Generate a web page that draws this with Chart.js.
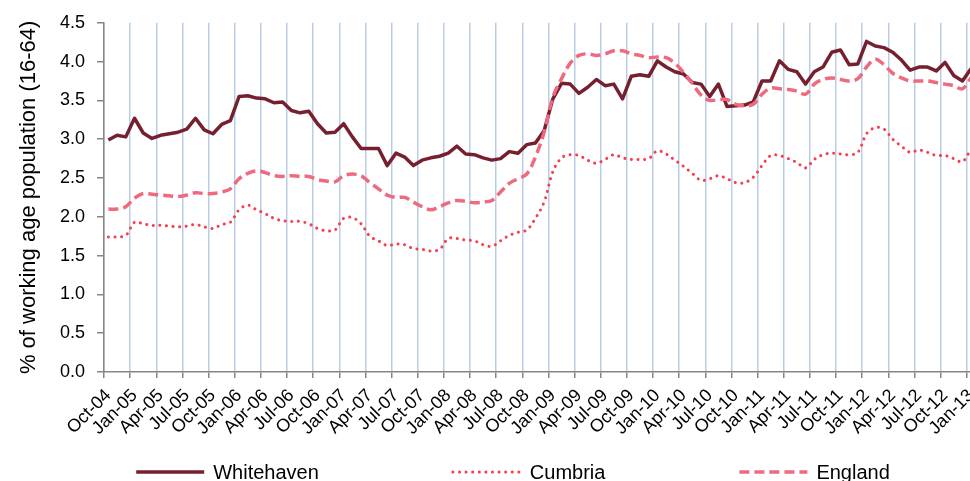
<!DOCTYPE html>
<html>
<head>
<meta charset="utf-8">
<script src="https://cdn.jsdelivr.net/npm/chart.js@4.4.0/dist/chart.umd.min.js"></script>
<style>
  html, body { margin: 0; padding: 0; background: #fff; }
  #wrap { width: 970px; height: 481px; overflow: hidden; }
  #chart { display: block; }
</style>
</head>
<body>
<div id="wrap"><canvas id="chart" width="1026" height="481"></canvas></div>
<script>
const months = [
  'Oct-04', 'Nov-04', 'Dec-04',
  'Jan-05', 'Feb-05', 'Mar-05', 'Apr-05', 'May-05', 'Jun-05', 'Jul-05', 'Aug-05', 'Sep-05', 'Oct-05', 'Nov-05', 'Dec-05',
  'Jan-06', 'Feb-06', 'Mar-06', 'Apr-06', 'May-06', 'Jun-06', 'Jul-06', 'Aug-06', 'Sep-06', 'Oct-06', 'Nov-06', 'Dec-06',
  'Jan-07', 'Feb-07', 'Mar-07', 'Apr-07', 'May-07', 'Jun-07', 'Jul-07', 'Aug-07', 'Sep-07', 'Oct-07', 'Nov-07', 'Dec-07',
  'Jan-08', 'Feb-08', 'Mar-08', 'Apr-08', 'May-08', 'Jun-08', 'Jul-08', 'Aug-08', 'Sep-08', 'Oct-08', 'Nov-08', 'Dec-08',
  'Jan-09', 'Feb-09', 'Mar-09', 'Apr-09', 'May-09', 'Jun-09', 'Jul-09', 'Aug-09', 'Sep-09', 'Oct-09', 'Nov-09', 'Dec-09',
  'Jan-10', 'Feb-10', 'Mar-10', 'Apr-10', 'May-10', 'Jun-10', 'Jul-10', 'Aug-10', 'Sep-10', 'Oct-10', 'Nov-10', 'Dec-10',
  'Jan-11', 'Feb-11', 'Mar-11', 'Apr-11', 'May-11', 'Jun-11', 'Jul-11', 'Aug-11', 'Sep-11', 'Oct-11', 'Nov-11', 'Dec-11',
  'Jan-12', 'Feb-12', 'Mar-12', 'Apr-12', 'May-12', 'Jun-12', 'Jul-12', 'Aug-12', 'Sep-12', 'Oct-12', 'Nov-12', 'Dec-12',
  'Jan-13'
];

// claimant rate, % of working age population (16-64)
const whitehaven = [
  2.99, 3.05, 3.03,
  3.27, 3.08, 3.01, 3.05, 3.07, 3.09, 3.13, 3.27, 3.12, 3.07, 3.19, 3.24,
  3.55, 3.56, 3.53, 3.52, 3.47, 3.48, 3.37, 3.34, 3.36, 3.20, 3.08, 3.09,
  3.20, 3.03, 2.88, 2.88, 2.88, 2.66, 2.82, 2.77, 2.66, 2.73, 2.76, 2.78,
  2.82, 2.91, 2.81, 2.80, 2.76, 2.73, 2.75, 2.84, 2.82, 2.93, 2.95, 3.11,
  3.52, 3.72, 3.71, 3.59, 3.67, 3.77, 3.69, 3.71, 3.52, 3.81, 3.83, 3.81,
  4.01, 3.93, 3.87, 3.84, 3.73, 3.71, 3.55, 3.71, 3.42, 3.43, 3.44, 3.48,
  3.75, 3.75, 4.01, 3.90, 3.87, 3.71, 3.87, 3.93, 4.12, 4.15, 3.96, 3.97,
  4.26, 4.20, 4.18, 4.12, 4.02, 3.89, 3.93, 3.93, 3.88, 3.99, 3.82, 3.75,
  3.91
];

const cumbria = [
  1.74, 1.74, 1.76,
  1.93, 1.91, 1.89, 1.89, 1.88, 1.87, 1.88, 1.90, 1.87, 1.85, 1.90, 1.93,
  2.09, 2.15, 2.09, 2.04, 1.98, 1.95, 1.94, 1.94, 1.91, 1.85, 1.82, 1.83,
  1.98, 1.99, 1.91, 1.75, 1.69, 1.63, 1.65, 1.64, 1.59, 1.58, 1.56, 1.58,
  1.72, 1.72, 1.70, 1.69, 1.64, 1.62, 1.69, 1.76, 1.80, 1.83, 1.98, 2.19,
  2.58, 2.76, 2.80, 2.79, 2.73, 2.69, 2.74, 2.80, 2.76, 2.74, 2.74, 2.75,
  2.85, 2.81, 2.73, 2.65, 2.56, 2.47, 2.49, 2.53, 2.49, 2.44, 2.44, 2.51,
  2.66, 2.79, 2.79, 2.75, 2.70, 2.63, 2.74, 2.80, 2.82, 2.81, 2.80, 2.83,
  3.07, 3.15, 3.13, 3.00, 2.91, 2.83, 2.86, 2.83, 2.79, 2.79, 2.75, 2.71,
  2.88
];

const england = [
  2.10, 2.10, 2.13,
  2.24, 2.30, 2.29, 2.28, 2.27, 2.26, 2.28, 2.31, 2.30, 2.30, 2.32, 2.36,
  2.49, 2.56, 2.59, 2.57, 2.53, 2.52, 2.53, 2.52, 2.52, 2.48, 2.46, 2.45,
  2.53, 2.55, 2.53, 2.44, 2.36, 2.28, 2.25, 2.25, 2.19, 2.13, 2.09, 2.13,
  2.18, 2.21, 2.20, 2.18, 2.19, 2.21, 2.32, 2.43, 2.49, 2.55, 2.77, 3.09,
  3.54, 3.78, 3.98, 4.08, 4.10, 4.08, 4.10, 4.14, 4.14, 4.10, 4.08, 4.05,
  4.06, 4.05, 3.98, 3.86, 3.72, 3.57, 3.50, 3.51, 3.51, 3.45, 3.43, 3.45,
  3.58, 3.66, 3.65, 3.64, 3.62, 3.58, 3.71, 3.77, 3.79, 3.77, 3.75, 3.78,
  3.93, 4.03, 3.96, 3.85, 3.79, 3.75, 3.75, 3.75, 3.73, 3.71, 3.69, 3.65,
  3.79
];

const axisGrey = '#868686';
const gridBlue = '#b9cde5';

Chart.defaults.font.family = "'Liberation Sans', Arial, sans-serif";
Chart.defaults.color = '#000';

// line-sample legend laid out in one row along the bottom edge
const lineLegend = {
  id: 'lineLegend',
  afterDraw(chart, args, opts) {
    const ctx = chart.ctx;
    ctx.save();
    ctx.font = opts.font;
    const items = chart.data.datasets.map(ds => ({
      ds: ds,
      w: opts.sample + opts.textGap + ctx.measureText(ds.label).width
    }));
    const total = items.reduce((s, it) => s + it.w, 0) + opts.gap * (items.length - 1);
    let x = chart.width / 2 - total / 2;
    items.forEach(({ds, w}) => {
      ctx.beginPath();
      ctx.strokeStyle = ds.borderColor;
      ctx.lineWidth = ds.borderWidth;
      ctx.lineCap = ds.borderCapStyle || 'butt';
      ctx.setLineDash(ds.borderDash || []);
      ctx.moveTo(x, opts.y);
      ctx.lineTo(x + opts.sample, opts.y);
      ctx.stroke();
      ctx.setLineDash([]);
      ctx.fillStyle = '#000';
      ctx.textBaseline = 'middle';
      ctx.textAlign = 'left';
      ctx.fillText(ds.label, x + opts.sample + opts.textGap, opts.y + 1);
      x += w + opts.gap;
    });
    ctx.restore();
  }
};

const ctx = document.getElementById('chart').getContext('2d');
const chart = new Chart(ctx, {
  type: 'line',
  data: {
    labels: months,
    datasets: [
      {
        label: 'Whitehaven',
        data: whitehaven,
        borderColor: '#76202f',
        borderWidth: 3.5,
        borderJoinStyle: 'round',
        pointRadius: 0,
        tension: 0,
        order: 2
      },
      {
        label: 'Cumbria',
        data: cumbria,
        borderColor: '#f5404e',
        borderWidth: 3,
        borderDash: [0.1, 6.5],
        borderCapStyle: 'round',
        pointRadius: 0,
        tension: 0.35,
        order: 1
      },
      {
        label: 'England',
        data: england,
        borderColor: '#ee6b7f',
        borderWidth: 3.5,
        borderDash: [10, 5],
        pointRadius: 0,
        tension: 0.35,
        order: 0
      }
    ]
  },
  options: {
    responsive: false,
    animation: false,
    layout: { padding: { top: 22, right: 50.5, bottom: 0, left: 0 } },
    plugins: {
      legend: { display: false },
      tooltip: { enabled: false },
      lineLegend: {
        y: 472,
        sample: 68,
        textGap: 9,
        gap: 134,
        font: "20px 'Liberation Sans', Arial, sans-serif"
      }
    },
    scales: {
      x: {
        offset: true,
        grid: {
          offset: true,
          color: c => c.index % 3 === 0 ? gridBlue : 'rgba(0,0,0,0)',
          tickColor: c => c.index % 3 === 0 ? axisGrey : 'rgba(0,0,0,0)',
          lineWidth: 1.5,
          tickLength: 6
        },
        border: { color: axisGrey, width: 1.5 },
        ticks: {
          autoSkip: false,
          minRotation: 45,
          maxRotation: 45,
          padding: 7,
          font: { size: 18 },
          callback: (v, i) => i % 3 === 0 ? months[i] : ''
        },
        afterFit: s => { s.height = 109; }
      },
      y: {
        min: 0,
        max: 4.5,
        ticks: {
          stepSize: 0.5,
          padding: 12,
          font: { size: 18 },
          callback: v => v.toFixed(1)
        },
        grid: { drawOnChartArea: false, tickLength: 7, tickColor: axisGrey, lineWidth: 1.5 },
        border: { color: axisGrey, width: 1.5 },
        title: {
          display: true,
          text: '% of working age population (16-64)',
          font: { size: 22 },
          padding: { top: 16, bottom: 0 }
        },
        afterFit: s => { s.width = 104; }
      }
    }
  },
  plugins: [lineLegend]
});
</script>
</body>
</html>
